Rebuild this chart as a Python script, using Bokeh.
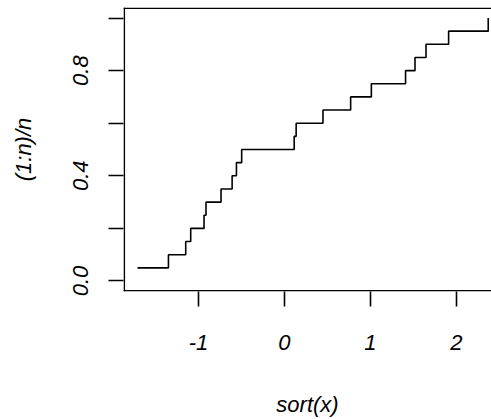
from bokeh.plotting import figure
from bokeh.models import Range1d, FixedTicker, Span
from bokeh.embed import file_html
from bokeh.resources import INLINE

# sorted sample values (sort(x)) and cumulative proportions (1:n)/n
sort_x = [-1.709, -1.349, -1.148, -1.090, -0.935, -0.912, -0.737, -0.608, -0.558, -0.497,
          0.114, 0.137, 0.449, 0.771, 1.012, 1.410, 1.520, 1.648, 1.911, 2.372]
prop = [0.05, 0.10, 0.15, 0.20, 0.25, 0.30, 0.35, 0.40, 0.45, 0.50,
        0.55, 0.60, 0.65, 0.70, 0.75, 0.80, 0.85, 0.90, 0.95, 1.00]

x_ticks = [-1, 0, 1, 2]
x_tick_labels = {-1: "-1", 0: "0", 1: "1", 2: "2"}
y_ticks = [0.0, 0.2, 0.4, 0.6, 0.8, 1.0]
y_tick_labels = {0.0: "0.0", 0.2: "", 0.4: "0.4", 0.6: "", 0.8: "0.8", 1.0: ""}

FONT = "Liberation Sans"
FS = "22px"

X0, X1 = -1.872, 2.41
Y0, Y1 = -0.04, 1.04

p = figure(width=491, height=419, output_backend="svg", toolbar_location=None,
           title=None,
           x_range=Range1d(X0, X1), y_range=Range1d(Y0, Y1),
           min_border_left=123, min_border_top=7, min_border_right=0,
           min_border_bottom=125)

p.step(sort_x, prop, mode="after", line_color="black", line_width=1.6)

p.grid.visible = False
p.outline_line_color = None
p.background_fill_color = "white"
p.border_fill_color = "white"

# plot box (top, bottom, left) drawn just inside the frame; right side lies beyond the picture
ey = 0.003
ex = 0.009
for loc, dim in [(Y0 + ey, "width"), (Y1 - ey, "width"), (X0 + ex, "height")]:
    p.add_layout(Span(location=loc, dimension=dim, line_color="black", line_width=1.6))

p.xaxis.ticker = FixedTicker(ticks=x_ticks)
p.xaxis.major_label_overrides = x_tick_labels
p.yaxis.ticker = FixedTicker(ticks=y_ticks)
p.yaxis.major_label_overrides = y_tick_labels
p.yaxis.major_label_orientation = "vertical"

p.xaxis.axis_label = "sort(x)"
p.yaxis.axis_label = "(1:n)/n"

for ax in (p.xaxis, p.yaxis):
    ax.axis_line_color = None
    ax.major_tick_line_color = "black"
    ax.major_tick_line_width = 1.6
    ax.major_tick_in = 0
    ax.major_tick_out = 15
    ax.minor_tick_line_color = None
    ax.major_label_text_font = FONT
    ax.major_label_text_font_style = "italic"
    ax.major_label_text_font_size = FS
    ax.major_label_text_color = "black"
    ax.axis_label_text_font = FONT
    ax.axis_label_text_font_style = "italic"
    ax.axis_label_text_font_size = FS
    ax.axis_label_text_color = "black"

p.xaxis.major_label_standoff = 28
p.xaxis.axis_label_standoff = 39
p.yaxis.major_label_standoff = 20
p.yaxis.axis_label_standoff = 35

open("out.html", "w").write(file_html(p, INLINE))
